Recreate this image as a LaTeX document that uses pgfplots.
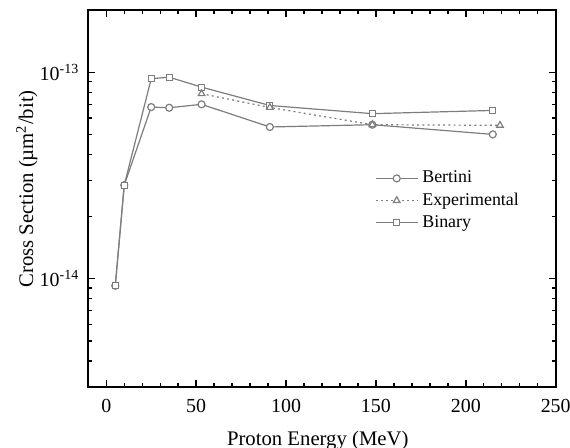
\documentclass[border=0pt]{standalone}
\usepackage{fontspec}
\setmainfont{Liberation Serif}
\usepackage{pgfplots}
\pgfplotsset{compat=1.18}
\definecolor{ln}{RGB}{125,125,125}

\begin{document}
\begin{tikzpicture}
\path[use as bounding box] (-44.15bp,-30.65bp) rectangle (240.85bp,193.35bp);
\begin{axis}[
  at={(0,0)}, anchor=south west,
  scale only axis, width=233.7bp, height=188.35bp,
  xmin=-10, xmax=250,
  ymode=log, ymin=3e-15, ymax=2e-13,
  xtick={0,50,...,250}, minor x tick num=4,
  ytick={1e-14,1e-13},
  yticklabels={10\textsuperscript{-14},10\textsuperscript{-13}},
  minor ytick={4e-15,5e-15,6e-15,7e-15,8e-15,9e-15,2e-14,3e-14,4e-14,5e-14,6e-14,7e-14,8e-14,9e-14},
  tick align=inside,
  major tick length=3.5bp, minor tick length=2bp,
  axis line style={line width=0.85bp},
  every tick/.style={black, line width=0.7bp},
  /pgf/number format/assume math mode=true,
  tick label style={font=\fontsize{10}{12}\selectfont},
  xticklabel shift=2.8bp,
  yticklabel shift=1bp,
  xlabel={Proton Energy (MeV)},
  ylabel={Cross Section (µm\textsuperscript{2}/bit)},
  label style={font=\fontsize{10.4}{12}\selectfont},
  xlabel style={at={(axis description cs:0.491,0)}, anchor=base, yshift=-29.3bp},
  ylabel style={at={(axis description cs:-0.1181,0.525)}, anchor=base},
  legend style={at={(axis description cs:0.600,0.595)}, anchor=north west,
    draw=none, fill=none, font=\fontsize{9}{10.5}\selectfont, row sep=-0.5bp,
    cells={anchor=west}},
  legend image code/.code={\draw[mark repeat=2,mark phase=2,#1]
    plot coordinates {(0bp,0bp) (10.5bp,0bp) (21bp,0bp)};},
]

% Bertini
\addplot[ln, line width=0.6bp, mark=*, mark size=1.75bp,
  mark options={solid, fill=white, draw=ln}, forget plot] coordinates {
(5,9.25e-15)(10,2.84e-14)(25,6.78e-14)(35,6.73e-14)(53,6.99e-14)(91,5.43e-14)(148,5.57e-14)(215,5.0e-14)
};

% Binary
\addplot[ln, line width=0.6bp, mark=square*, mark size=1.5bp,
  mark options={solid, fill=white, draw=ln}, forget plot] coordinates {
(5,9.25e-15)(10,2.84e-14)(25,9.3e-14)(35,9.46e-14)(53,8.47e-14)(91,6.9e-14)(148,6.3e-14)(215,6.53e-14)
};

% Experimental
\addplot[ln, line width=0.6bp, dash pattern=on 1bp off 1.6bp, mark=triangle*, mark size=1.9bp,
  mark options={solid, fill=white, draw=ln}, forget plot] coordinates {
(53,7.87e-14)(91,6.75e-14)(148,5.57e-14)(219,5.53e-14)
};

\addlegendimage{ln, line width=0.6bp, mark=*, mark size=1.75bp, mark options={solid, fill=white, draw=ln}}
\addlegendentry{Bertini}
\addlegendimage{ln, line width=0.6bp, dash pattern=on 1bp off 1.6bp, mark=triangle*, mark size=1.9bp, mark options={solid, fill=white, draw=ln}}
\addlegendentry{Experimental}
\addlegendimage{ln, line width=0.6bp, mark=square*, mark size=1.5bp, mark options={solid, fill=white, draw=ln}}
\addlegendentry{Binary}

\end{axis}
\end{tikzpicture}
\end{document}
